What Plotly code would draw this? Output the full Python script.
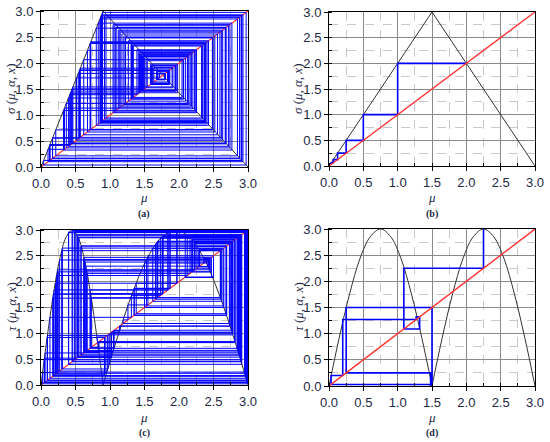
import plotly.graph_objects as go

# map curves
sigma_a_x = [0.0, 0.9, 3.0]
sigma_a_y = [0.0, 3.0, 0.0]
sigma_b_x = [0.0, 1.5, 3.0]
sigma_b_y = [0.0, 3.0, 0.0]

hump_y = [0.0, 0.93, 1.76, 2.43, 2.85, 3.0, 2.85, 2.43, 1.76, 0.93, 0.0]
tau_c_x1 = [0.0, 0.09, 0.18, 0.27, 0.36, 0.45, 0.54, 0.63, 0.72, 0.81, 0.9]
tau_c_x2 = [0.9, 1.11, 1.32, 1.53, 1.74, 1.95, 2.16, 2.37, 2.58, 2.79, 3.0]
tau_d_x1 = [0.0, 0.15, 0.3, 0.45, 0.6, 0.75, 0.9, 1.05, 1.2, 1.35, 1.5]
tau_d_x2 = [1.5, 1.65, 1.8, 1.95, 2.1, 2.25, 2.4, 2.55, 2.7, 2.85, 3.0]

diag = [0.0, 3.0]

# orbits
orbit_a = [1.72, 1.792, 1.691, 1.833, 1.634, 1.912, 1.523, 2.068, 1.305, 2.373,
           0.878, 2.927, 0.102, 0.340, 1.133, 2.614, 0.540, 1.800, 1.680, 1.848,
           1.613, 1.942, 1.481, 2.127, 1.222, 2.489, 0.715, 2.383, 0.864, 2.880,
           0.168, 0.560, 1.867, 1.586, 1.980, 1.428, 2.201, 1.119, 2.633, 0.514,
           1.713, 1.802, 1.677, 1.852, 1.607, 1.950, 1.470, 2.142, 1.201, 2.519,
           0.673, 2.243, 1.060, 2.716, 0.398, 1.327, 2.342, 0.921, 2.911, 0.125,
           0.417, 1.390, 2.254, 1.044, 2.738, 0.367, 1.223, 2.488, 0.717, 2.390,
           0.854, 2.847, 0.214, 0.713, 2.377, 0.872, 2.907, 0.130, 0.433, 1.443,
           2.180, 1.148, 2.593, 0.570, 1.900, 1.540, 2.044, 1.338, 2.327, 0.942,
           2.881, 0.167, 0.557, 1.857, 1.600, 1.960, 1.456, 2.162, 1.173, 2.558,
           0.619, 2.063, 1.312, 2.363, 0.892, 2.973, 0.038, 0.127, 0.423, 1.410,
           2.226, 1.084, 2.682, 0.445, 1.483, 2.124, 1.226, 2.484, 0.722, 2.407,
           0.830, 2.767, 0.326, 1.087, 2.678, 0.451, 1.503, 2.096, 1.266, 2.428,
           0.801, 2.670, 0.462, 1.540]
orbit_b = [0.03125, 0.0625, 0.125, 0.25, 0.5, 1.0, 2.0, 2.0]
orbit_c = [0.30, 2.60, 1.69, 2.78, 0.97, 0.31, 2.65, 1.50, 2.36, 2.45,
           2.19, 2.81, 0.84, 0.63, 2.43, 2.26, 2.68, 1.38, 1.97, 2.99,
           0.047, 0.49, 2.97, 0.13, 1.31, 1.73, 2.84, 0.71, 1.84, 2.96,
           0.18, 1.76, 2.87, 0.58, 2.69, 1.35, 1.87, 2.98, 0.094, 0.96,
           0.27, 2.42, 2.29, 2.62, 1.62, 2.64, 1.53, 2.44, 2.23, 2.74,
           1.14, 1.05, 0.66, 2.22, 2.76, 1.06, 0.72, 1.77, 2.88, 0.54,
           2.85, 0.67, 2.16, 2.86, 0.64, 2.38, 2.40, 2.36, 2.45, 2.19,
           2.81, 0.83, 0.73, 1.69, 2.77, 1.02, 0.53, 2.89, 0.49, 2.95,
           0.226, 2.12, 2.90, 0.45, 2.995, 0.023, 0.24, 2.23, 2.74, 1.14,
           1.05, 0.65, 2.30, 2.60, 1.69, 2.78, 0.99, 0.40, 2.96, 0.18,
           1.76, 2.87, 0.58, 2.69, 1.35, 1.87, 2.98, 0.09, 0.92, 0.19,
           1.84, 2.96, 0.17, 1.68, 2.77, 1.02, 0.55, 2.86, 0.62, 2.47,
           2.09, 2.90, 0.46, 2.99, 0.05, 0.52, 2.91, 0.40, 2.95, 0.25,
           2.19, 2.81, 0.82, 0.81, 0.93, 0.21, 1.97, 2.99, 0.06, 0.62,
           2.42, 2.29, 2.61, 1.66, 2.73, 1.19, 1.26, 1.55, 2.50, 2.08]
orbit_d = [1.48, 0.25, 1.5, 0.03, 0.2, 1.27, 1.32, 1.09, 2.25, 3.0]


def cobweb(orbit, y0, last_horizontal=True):
    xs = [orbit[0]]
    ys = [y0]
    for i in range(len(orbit) - 1):
        xs += [orbit[i], orbit[i + 1]]
        ys += [orbit[i + 1], orbit[i + 1]]
    if not last_horizontal:
        xs, ys = xs[:-1], ys[:-1]
    return xs, ys


BLUE = "#0000ff"
RED = "#ff3333"
BLACK = "#333333"

fig = go.Figure()

panels = [
    ("", [(sigma_a_x, sigma_a_y)], "linear", orbit_a, orbit_a[0], 1.0, True),
    ("2", [(sigma_b_x, sigma_b_y)], "linear", orbit_b, orbit_b[0], 1.6, True),
    ("3", [(tau_c_x1, hump_y), (tau_c_x2, hump_y)], "spline", orbit_c, orbit_c[0], 1.0, True),
    ("4", [(tau_d_x1, hump_y), (tau_d_x2, hump_y)], "spline", orbit_d, 0.0, 1.6, False),
]

for ax, curves, shape, orbit, y0, bw, lastx in panels:
    xa = "x" + ax
    ya = "y" + ax
    for cx, cy in curves:
        fig.add_trace(go.Scatter(x=cx, y=cy, mode="lines", xaxis=xa, yaxis=ya,
                                 line=dict(color=BLACK, width=1, shape=shape),
                                 showlegend=False, hoverinfo="skip"))
    if ax in ("", "3"):
        fig.add_trace(go.Scatter(x=diag, y=diag, mode="lines", xaxis=xa, yaxis=ya,
                                 line=dict(color=RED, width=1.2), showlegend=False))
    cx, cy = cobweb(orbit, y0, lastx)
    fig.add_trace(go.Scatter(x=cx, y=cy, mode="lines", xaxis=xa, yaxis=ya,
                             line=dict(color=BLUE, width=bw), showlegend=False))
    if ax in ("2", "4"):
        fig.add_trace(go.Scatter(x=diag, y=diag, mode="lines", xaxis=xa, yaxis=ya,
                                 line=dict(color=RED, width=1.4), showlegend=False))

W, H = 550, 442
domains = {
    "": ((41, 248), (11, 167)),
    "2": ((329, 535), (12, 166)),
    "3": ((41, 248), (230, 385)),
    "4": ((329, 535), (229, 386)),
}

ink = "#1c2846"
tickfont = dict(family="Liberation Sans, Arial", size=13, color=ink)
axis_common = dict(
    range=[0, 3], tick0=0, dtick=0.5, tickformat=".1f",
    showline=True, linecolor="black", linewidth=1, mirror=True,
    ticks="outside", ticklen=4, tickcolor="black",
    showgrid=True, gridcolor="#8a8a8a", gridwidth=1,
    minor=dict(dtick=0.25, showgrid=True, gridcolor="#c8c8c8", griddash="dash",
               ticks="inside", ticklen=3, tickcolor="black"),
    zeroline=False, tickfont=tickfont, fixedrange=True, automargin=False,
    ticklabeloverflow="allow",
)

layout = dict(width=W, height=H, margin=dict(l=0, r=0, t=0, b=0),
              paper_bgcolor="white", plot_bgcolor="white", showlegend=False)

for ax, ((x0, x1), (y0, y1)) in domains.items():
    layout["xaxis" + ax] = dict(axis_common, domain=[x0 / W, x1 / W], anchor="y" + ax)
    layout["yaxis" + ax] = dict(axis_common, domain=[1 - y1 / H, 1 - y0 / H],
                                anchor="x" + ax)

fig.update_layout(**layout)

labels = [
    ("a", 144, 89, 11, 198, 214, "σ"),
    ("b", 432, 89, 298, 198, 214, "σ"),
    ("c", 144, 307, 11, 417, 433, "τ"),
    ("d", 432, 307, 298, 417, 433, "τ"),
]
serif = "Liberation Serif, Times New Roman"
for tag, cx, cy, ylx, muy, tagy, sym in labels:
    fig.add_annotation(x=cx / W, y=1 - muy / H, xref="paper", yref="paper",
                       xanchor="center", yanchor="middle", text="<i>μ</i>",
                       showarrow=False, font=dict(family=serif, size=13, color=ink))
    fig.add_annotation(x=ylx / W, y=1 - cy / H, xref="paper", yref="paper",
                       xanchor="center", yanchor="middle",
                       text="<i>%s</i> (<i>μ</i>, <i>α</i>, <i>x</i>)" % sym,
                       textangle=-90, showarrow=False,
                       font=dict(family=serif, size=13, color=ink))
    fig.add_annotation(x=cx / W, y=1 - tagy / H, xref="paper", yref="paper",
                       xanchor="center", yanchor="middle", text="<b>(%s)</b>" % tag,
                       showarrow=False, font=dict(family=serif, size=10, color=ink))

# drop the default 8px page margin so the figure sits at the window corner
fig.write_html("out.html", config={"displayModeBar": False},
               post_script="document.body.style.margin='0px';")
